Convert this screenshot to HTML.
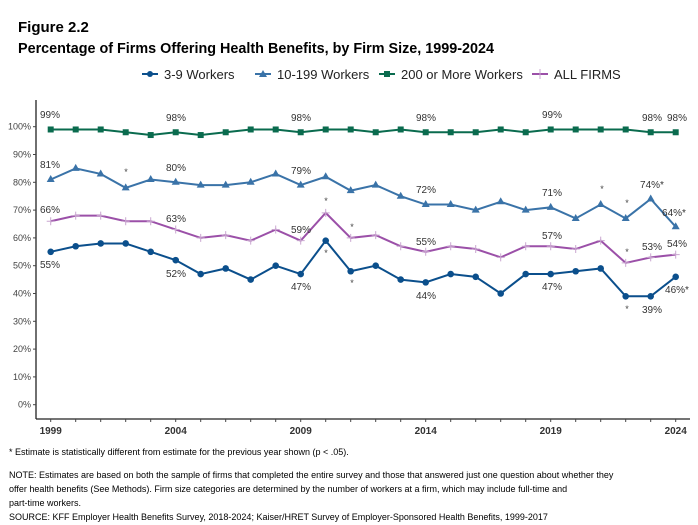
<!DOCTYPE html>
<html><head><meta charset="utf-8"><style>
body{margin:0;background:#fff;}
svg{display:block;font-family:"Liberation Sans",Arial,sans-serif;}
</style></head><body>
<svg id="s" width="698" height="525" xmlns="http://www.w3.org/2000/svg">
<text x="18" y="32" font-size="15" font-weight="bold" fill="#000">Figure 2.2</text>
<text x="18" y="53" font-size="14.5" font-weight="bold" fill="#000" textLength="476" lengthAdjust="spacingAndGlyphs">Percentage of Firms Offering Health Benefits, by Firm Size, 1999-2024</text>
<g font-size="13" fill="#222">
<line x1="142" y1="74" x2="158" y2="74" stroke="#0b4f8c" stroke-width="2"/><circle cx="150" cy="74" r="3" fill="#0b4f8c"/>
<text x="164" y="79">3-9 Workers</text>
<line x1="255" y1="74" x2="271" y2="74" stroke="#3a73a8" stroke-width="2"/><path d="M263,70 L267,77 L259,77Z" fill="#3a73a8"/>
<text x="277" y="79">10-199 Workers</text>
<line x1="379" y1="74" x2="395" y2="74" stroke="#0a6b4e" stroke-width="2"/><rect x="384" y="71" width="6" height="6" fill="#0a6b4e"/>
<text x="401" y="79">200 or More Workers</text>
<line x1="532" y1="74" x2="548" y2="74" stroke="#9b50a8" stroke-width="2"/><line x1="540" y1="69" x2="540" y2="79" stroke="#c9a6d0" stroke-width="1"/>
<text x="554" y="79">ALL FIRMS</text>
</g>
<g id="axes"></g>
<g id="data"></g>
<g font-size="9" fill="#000">
<text x="9" y="455">* Estimate is statistically different from estimate for the previous year shown (p &lt; .05).</text>
<text x="9" y="478">NOTE: Estimates are based on both the sample of firms that completed the entire survey and those that answered just one question about whether they</text>
<text x="9" y="492">offer health benefits (See Methods). Firm size categories are determined by the number of workers at a firm, which may include full-time and</text>
<text x="9" y="506">part-time workers.</text>
<text x="9" y="520">SOURCE: KFF Employer Health Benefits Survey, 2018-2024; Kaiser/HRET Survey of Employer-Sponsored Health Benefits, 1999-2017</text>
</g>
</svg>
<script>
var NS="http://www.w3.org/2000/svg";
function el(p,t,a,txt){var e=document.createElementNS(NS,t);for(var k in a)e.setAttribute(k,a[k]);if(txt!==undefined)e.textContent=txt;p.appendChild(e);return e;}
var X=function(i){return 50.7+25*i;}, Y=function(v){return 404.7-2.78*v;};
var ax=document.getElementById("axes"), dg=document.getElementById("data");
el(ax,"line",{x1:36,y1:100,x2:36,y2:419,stroke:"#222","stroke-width":1.3});
el(ax,"line",{x1:36,y1:419,x2:690,y2:419,stroke:"#222","stroke-width":1.3});
for(var v=0;v<=100;v+=10){var y=Y(v);el(ax,"line",{x1:33,y1:y,x2:36,y2:y,stroke:"#444"});
el(ax,"text",{x:31,y:y+3,"font-size":9,"text-anchor":"end",fill:"#444"},v+"%");}
for(var i=0;i<26;i++){el(ax,"line",{x1:X(i),y1:419,x2:X(i),y2:422,stroke:"#444"});
if(i%5==0)el(ax,"text",{x:X(i),y:434,"font-size":10,"font-weight":"bold","text-anchor":"middle",fill:"#333"},1999+i);}
var S=[
{c:"#0a6b4e",m:"sq",d:[99,99,99,98,97,98,97,98,99,99,98,99,99,98,99,98,98,98,99,98,99,99,99,99,98,98]},
{c:"#3a73a8",m:"tri",d:[81,85,83,78,81,80,79,79,80,83,79,82,77,79,75,72,72,70,73,70,71,67,72,67,74,64]},
{c:"#9b50a8",m:"plus",d:[66,68,68,66,66,63,60,61,59,63,59,69,60,61,57,55,57,56,53,57,57,56,59,51,53,54]},
{c:"#0b4f8c",m:"dot",d:[55,57,58,58,55,52,47,49,45,50,47,59,48,50,45,44,47,46,40,47,47,48,49,39,39,46]}];
S.forEach(function(s){var p=s.d.map(function(v,i){return X(i)+","+Y(v);}).join(" ");
el(dg,"polyline",{points:p,fill:"none",stroke:s.c,"stroke-width":2});
s.d.forEach(function(v,i){var x=X(i),y=Y(v);
if(s.m=="sq")el(dg,"rect",{x:x-3,y:y-3,width:6,height:6,fill:s.c});
else if(s.m=="dot")el(dg,"circle",{cx:x,cy:y,r:3.3,fill:s.c});
else if(s.m=="tri")el(dg,"path",{d:"M"+x+","+(y-4.5)+" L"+(x+4)+","+(y+2.5)+" L"+(x-4)+","+(y+2.5)+"Z",fill:s.c});
else el(dg,"path",{d:"M"+(x-4)+","+y+" H"+(x+4)+" M"+x+","+(y-4)+" V"+(y+4),stroke:"#c9a6d0","stroke-width":1});});});
var L=[
[50,118,"99%"],[176,121,"98%"],[301,121,"98%"],[426,121,"98%"],[552,118,"99%"],[652,121,"98%"],[677,121,"98%"],
[50,168,"81%"],[176,171,"80%"],[301,174,"79%"],[426,193,"72%"],[552,196,"71%"],[652,188,"74%*"],[674,216,"64%*"],
[50,213,"66%"],[176,222,"63%"],[301,233,"59%"],[426,245,"55%"],[552,239,"57%"],[652,250,"53%"],[677,247,"54%"],
[50,268,"55%"],[176,277,"52%"],[301,290,"47%"],[426,299,"44%"],[552,290,"47%"],[652,313,"39%"],[677,293,"46%*"]];
L.forEach(function(l){el(dg,"text",{x:l[0],y:l[1],"font-size":10,"text-anchor":"middle",fill:"#333"},l[2]);});
var A=[[126,175],[326,204],[326,256],[352,230],[352,286],[602,192],[627,206],[627,255],[627,312]];
A.forEach(function(a){el(dg,"text",{x:a[0],y:a[1],"font-size":9,"text-anchor":"middle",fill:"#444"},"*");});
</script>
</body></html>
